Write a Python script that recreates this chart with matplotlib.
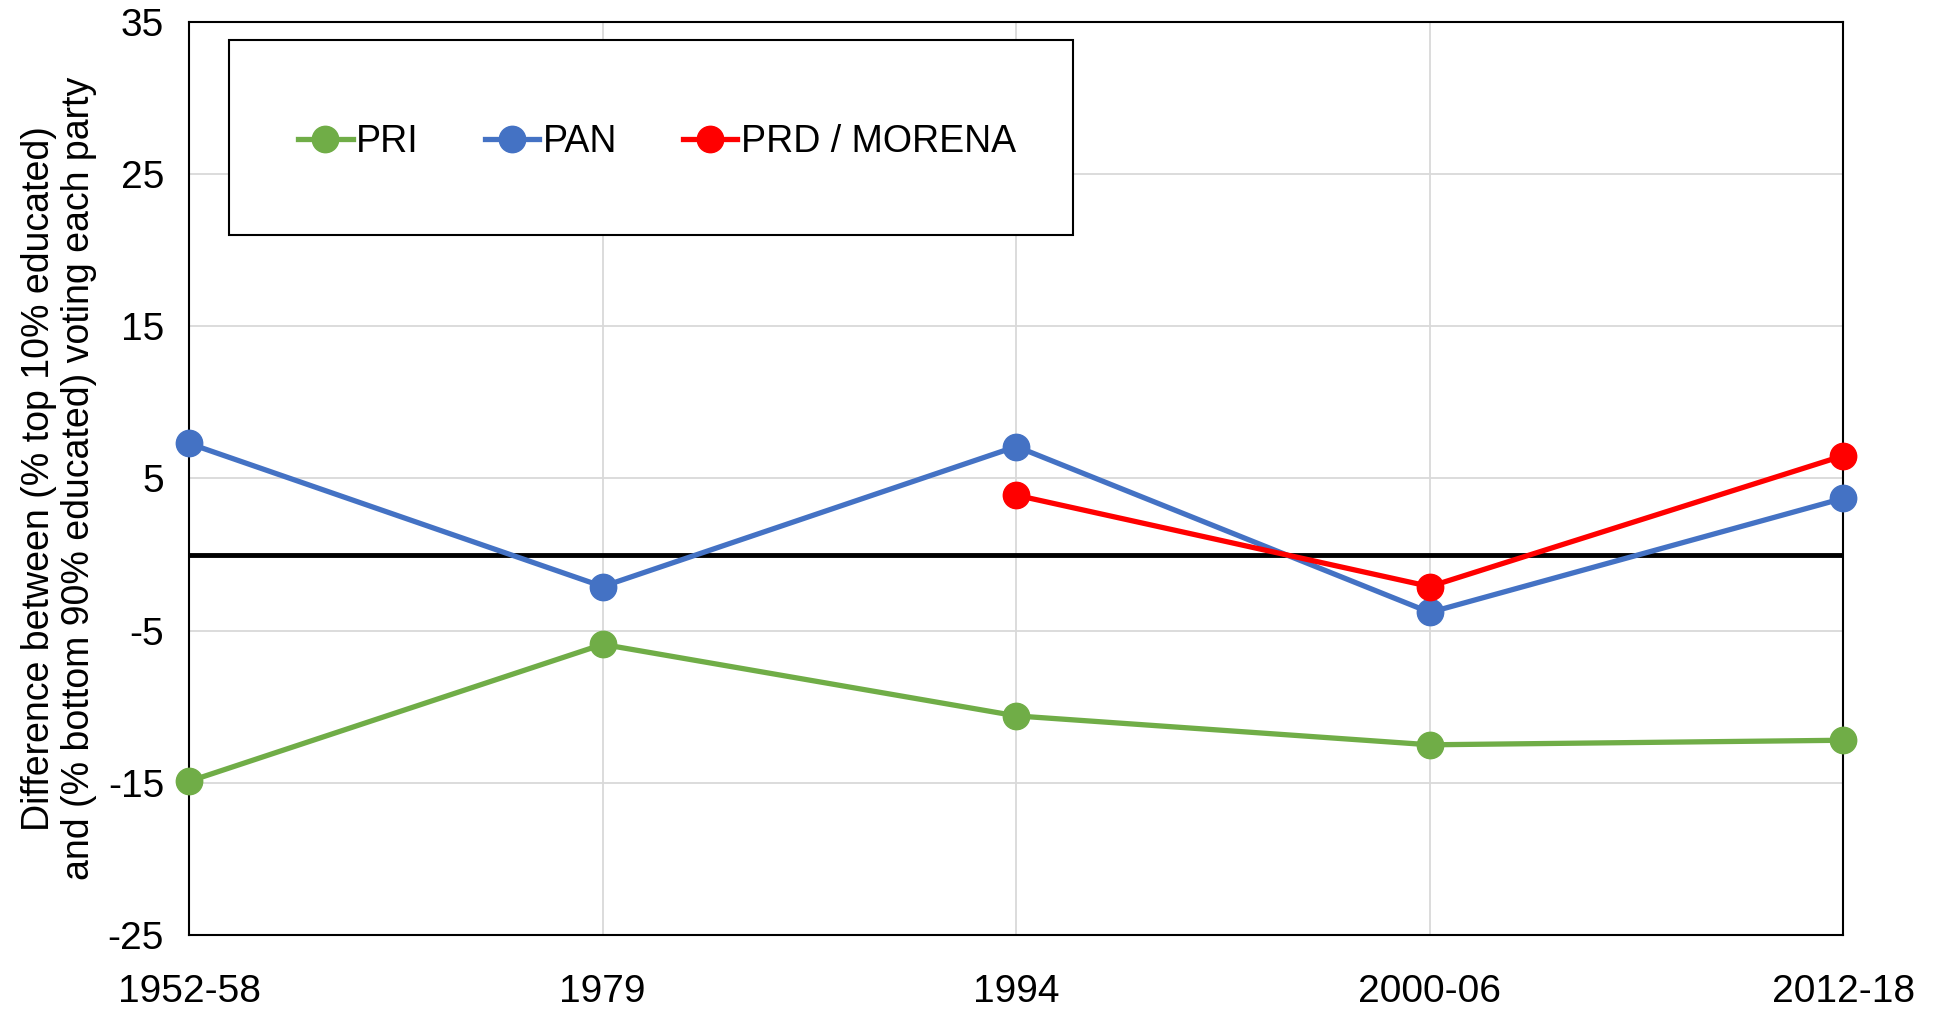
import matplotlib
matplotlib.use("Agg")
import matplotlib.pyplot as plt
from matplotlib.patches import Rectangle
import numpy as np

plt.rcParams['font.family'] = ['Liberation Sans', 'DejaVu Sans']
plt.rcParams['axes.unicode_minus'] = False

periods = ["1952-58", "1979", "1994", "2000-06", "2012-18"]
pri = [-14.9, -5.9, -10.6, -12.5, -12.2]
pan = [7.3, -2.1, 7.1, -3.8, 3.7]
prd_morena = [np.nan, np.nan, 3.9, -2.1, 6.5]

yticks = [-25, -15, -5, 5, 15, 25, 35]

fig = plt.figure(figsize=(19.35, 10.09), dpi=100)
ax = fig.add_axes([0.0977, 0.0733, 0.855, 0.905])

x = np.arange(len(periods))
ax.axhline(0, color='black', lw=3.5, zorder=2)
ax.plot(x, pri, color='#70AD47', lw=3.8, marker='o', ms=19, label='PRI', zorder=3, clip_on=False)
ax.plot(x, pan, color='#4472C4', lw=3.8, marker='o', ms=19, label='PAN', zorder=3, clip_on=False)
ax.plot(x, prd_morena, color='#FF0000', lw=3.8, marker='o', ms=19, label='PRD / MORENA', zorder=4, clip_on=False)

ax.set_xlim(0, len(periods) - 1)
ax.set_ylim(-25, 35)
ax.set_xticks(x)
ax.set_xticklabels(periods)
ax.set_yticks(yticks)
ax.grid(True, color='#D9D9D9', lw=1.3)
ax.set_axisbelow(True)
ax.tick_params(axis='both', length=0, labelsize=28)
ax.tick_params(axis='x', pad=28)
ax.tick_params(axis='y', pad=18)
for s in ax.spines.values():
    s.set_color('black')
    s.set_linewidth(1.5)

ax.set_ylabel("Difference between (% top 10% educated)\nand (% bottom 90% educated) voting each party",
              fontsize=27, labelpad=8, linespacing=1.12)

# legend frame
frame = Rectangle((0.0239, 0.7662), 0.534 - 0.0239, 0.9797 - 0.7662, transform=ax.transAxes,
                  facecolor='white', edgecolor='black', lw=1.5, zorder=5)
ax.add_patch(frame)
leg = ax.legend(loc='center left', bbox_to_anchor=(0.066, 0.868), ncol=3, fontsize=27,
                frameon=False, borderpad=0, handlelength=1.45, handletextpad=0.1,
                columnspacing=1.75, borderaxespad=0)
leg.set_zorder(6)

fig.savefig("out.png", dpi=100)
